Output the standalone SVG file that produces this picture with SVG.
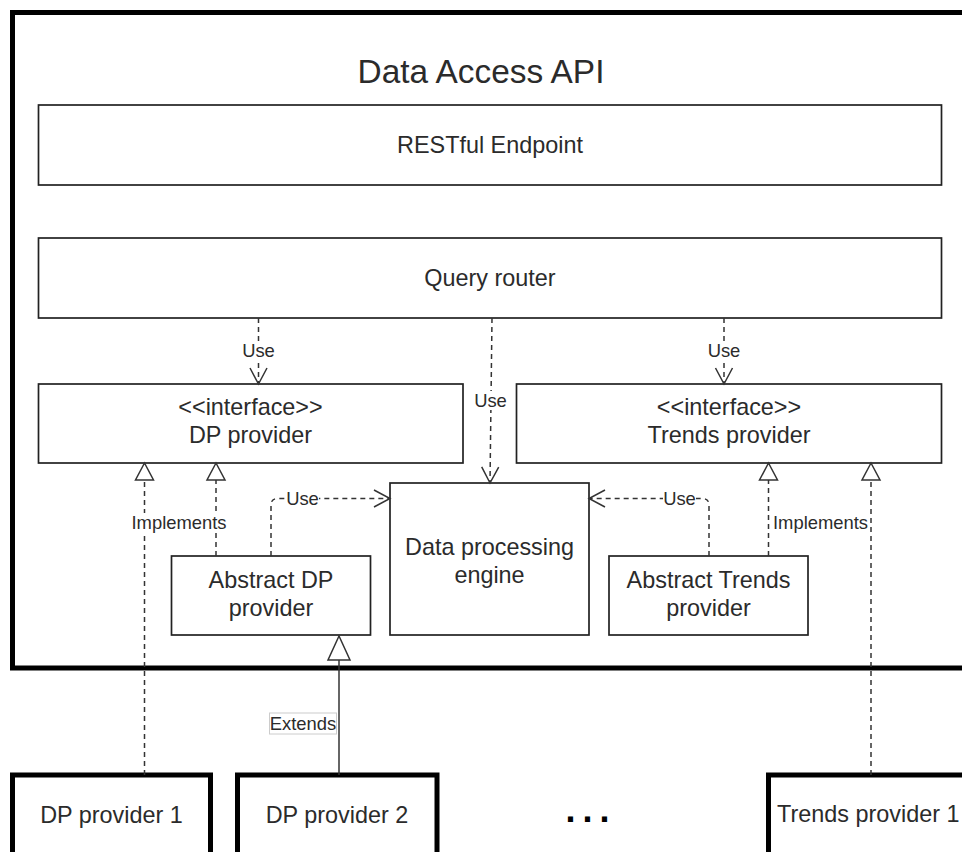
<svg xmlns="http://www.w3.org/2000/svg" width="962" height="852" viewBox="0 0 962 852">
  <style>
    text { font-family: "Liberation Sans", Arial, Helvetica, sans-serif; fill: #2b2b2b; text-anchor: middle; }
    .main { font-size: 23.4px; }
    .lbl { font-size: 18.4px; }
    .title { font-size: 33.4px; }
    .box { fill: #fff; stroke: #222; stroke-width: 1.7; }
    .thick { fill: #fff; stroke: #000; stroke-width: 5; }
    .dash { fill: none; stroke: #333; stroke-width: 1.5; stroke-dasharray: 5 4; }
    .solid { fill: none; stroke: #333; stroke-width: 1.5; }
    .lblbg { fill: #fff; stroke: none; }
  </style>
  <defs>
    <!-- open "use" arrowhead -->
    <marker id="open" markerUnits="userSpaceOnUse" viewBox="-18 -10 20 20" markerWidth="20" markerHeight="20" refX="0" refY="0" orient="auto">
      <path d="M -16 -8.5 L 0 0 L -16 8.5" fill="none" stroke="#333" stroke-width="1.5"/>
    </marker>
    <!-- hollow triangle for realization -->
    <marker id="tri" markerUnits="userSpaceOnUse" viewBox="-20 -11 22 22" markerWidth="22" markerHeight="22" refX="0" refY="0" orient="auto">
      <path d="M 0 0 L -17 -9 L -17 9 Z" fill="#fff" stroke="#333" stroke-width="1.5"/>
    </marker>
    <!-- larger hollow triangle for generalization -->
    <marker id="triL" markerUnits="userSpaceOnUse" viewBox="-27 -13 29 26" markerWidth="29" markerHeight="26" refX="0" refY="0" orient="auto">
      <path d="M 0 0 L -24 -11 L -24 11 Z" fill="#fff" stroke="#333" stroke-width="1.5"/>
    </marker>
  </defs>

  <!-- container -->
  <g id="data-access-api">
    <rect class="thick" x="12.5" y="12.5" width="1000" height="655.5"/>
    <text class="title" x="481" y="83">Data Access API</text>
  </g>

  <g id="restful-endpoint">
    <rect class="box" x="38.5" y="105" width="903" height="80"/>
    <text class="main" x="490" y="153">RESTful Endpoint</text>
  </g>

  <g id="query-router">
    <rect class="box" x="38.5" y="238" width="903" height="80"/>
    <text class="main" x="490" y="286">Query router</text>
  </g>

  <g id="dp-provider-interface">
    <rect class="box" x="38.5" y="384" width="424.5" height="79"/>
    <text class="main" x="250.5" y="415">&lt;&lt;interface&gt;&gt;</text>
    <text class="main" x="250.5" y="443">DP provider</text>
  </g>

  <g id="trends-provider-interface">
    <rect class="box" x="516.5" y="384" width="425" height="79"/>
    <text class="main" x="729" y="415">&lt;&lt;interface&gt;&gt;</text>
    <text class="main" x="729" y="443">Trends provider</text>
  </g>

  <g id="data-processing-engine">
    <rect class="box" x="390" y="483" width="199" height="152"/>
    <text class="main" x="489.5" y="555">Data processing</text>
    <text class="main" x="489.5" y="583">engine</text>
  </g>

  <g id="abstract-dp-provider">
    <rect class="box" x="171.5" y="556" width="199" height="79"/>
    <text class="main" x="271" y="588">Abstract DP</text>
    <text class="main" x="271" y="616">provider</text>
  </g>

  <g id="abstract-trends-provider">
    <rect class="box" x="609" y="556" width="199" height="79"/>
    <text class="main" x="708.5" y="588">Abstract Trends</text>
    <text class="main" x="708.5" y="616">provider</text>
  </g>

  <g id="dp-provider-1">
    <rect class="thick" x="12.5" y="775" width="198" height="100"/>
    <text class="main" x="111.5" y="823">DP provider 1</text>
  </g>

  <g id="dp-provider-2">
    <rect class="thick" x="237.5" y="775" width="199.5" height="100"/>
    <text class="main" x="337" y="823">DP provider 2</text>
  </g>

  <g id="ellipsis">
    <text x="591" y="822" style="font-size:36px;font-weight:bold;letter-spacing:7px;fill:#000">...</text>
  </g>

  <g id="trends-provider-1">
    <rect class="thick" x="768.5" y="775" width="250" height="100"/>
    <text class="main" x="777" y="822" style="text-anchor:start">Trends provider 1</text>
  </g>

  <!-- connectors -->
  <g id="connectors">
    <!-- router uses interfaces and engine -->
    <path class="dash" d="M 258.5 318 L 258.5 384" marker-end="url(#open)"/>
    <rect class="lblbg" x="241" y="341" width="35" height="19"/>
    <text class="lbl" x="258.5" y="357">Use</text>

    <path class="dash" d="M 492 318 L 490 483" marker-end="url(#open)"/>
    <rect class="lblbg" x="473" y="391" width="35" height="19"/>
    <text class="lbl" x="490.5" y="407">Use</text>

    <path class="dash" d="M 724 318 L 724 384" marker-end="url(#open)"/>
    <rect class="lblbg" x="706" y="341" width="35" height="19"/>
    <text class="lbl" x="724" y="357">Use</text>

    <!-- realizations of DP provider -->
    <path class="dash" d="M 216 556 L 216 463" marker-end="url(#tri)"/>
    <path class="dash" d="M 144.5 775 L 144.5 463" marker-end="url(#tri)"/>
    <rect class="lblbg" x="131" y="513" width="96" height="20"/>
    <text class="lbl" x="179" y="529">Implements</text>

    <!-- realizations of Trends provider -->
    <path class="dash" d="M 768.5 556 L 768.5 463" marker-end="url(#tri)"/>
    <path class="dash" d="M 871 775 L 871 463" marker-end="url(#tri)"/>
    <text class="lbl" x="820.5" y="529">Implements</text>

    <!-- abstract providers use the engine -->
    <path class="dash" d="M 271 556 L 271 505 Q 271 498.5 278 498.5 L 390 498.5" marker-end="url(#open)"/>
    <rect class="lblbg" x="286" y="489" width="33" height="19"/>
    <text class="lbl" x="302.5" y="505">Use</text>

    <path class="dash" d="M 709 556 L 709 505 Q 709 498.5 702 498.5 L 589 498.5" marker-end="url(#open)"/>
    <rect class="lblbg" x="663" y="489" width="33" height="19"/>
    <text class="lbl" x="679.5" y="505">Use</text>

    <!-- generalization -->
    <path class="solid" d="M 339 775 L 339 636" marker-end="url(#triL)"/>
    <rect x="269.5" y="713" width="67" height="21" fill="#fff" stroke="#ccc" stroke-width="1"/>
    <text class="lbl" x="303" y="730">Extends</text>
  </g>
</svg>
